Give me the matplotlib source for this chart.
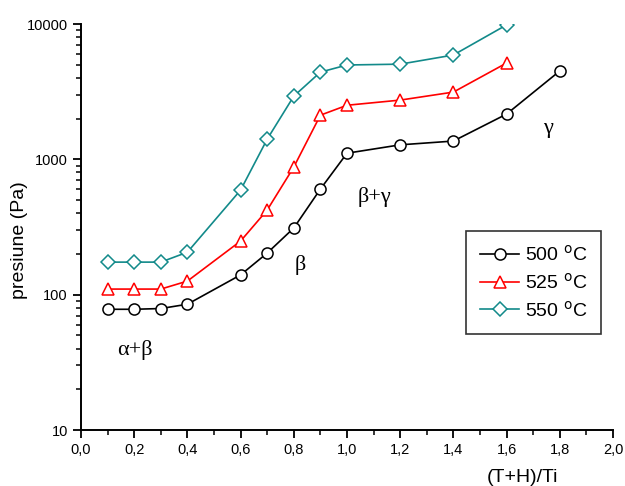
import numpy as np
import matplotlib
matplotlib.use("Agg")
import matplotlib.pyplot as plt
from matplotlib.ticker import MultipleLocator, FuncFormatter, LogLocator, NullFormatter

plt.rcParams["font.family"] = ["Liberation Sans", "DejaVu Sans"]

# ===== data: (T+H)/Ti vs. pressure [Pa] =====
x_500 = [0.1, 0.2, 0.3, 0.4, 0.6, 0.7, 0.8, 0.9, 1.0, 1.2, 1.4, 1.6, 1.8]
p_500 = [78, 78, 79, 85, 140, 203, 311, 603, 1110, 1280, 1365, 2160, 4500]

x_525 = [0.1, 0.2, 0.3, 0.4, 0.6, 0.7, 0.8, 0.9, 1.0, 1.2, 1.4, 1.6]
p_525 = [110, 110, 110, 126, 249, 422, 877, 2120, 2510, 2740, 3140, 5150]

x_550 = [0.1, 0.2, 0.3, 0.4, 0.6, 0.7, 0.8, 0.9, 1.0, 1.2, 1.4, 1.6]
p_550 = [174, 174, 174, 206, 593, 1410, 2930, 4410, 4980, 5050, 5900, 9850]

labels = ["500 $^{\\rm o}$C", "525 $^{\\rm o}$C", "550 $^{\\rm o}$C"]

# phase regions (text, x, y) - text centre
phases = [("α+β", 0.203, 39), ("β", 0.823, 166), ("β+γ", 1.105, 526), ("γ", 1.756, 1700)]

fig = plt.figure(figsize=(6.25, 4.86), dpi=100)
ax = fig.add_axes([0.1296, 0.1152, 0.8512, 0.8354])

ms = 8
teal = "#128a8a"
ax.plot(x_500, p_500, color="black", lw=1.2, marker="o", ms=ms,
        mfc="white", mec="black", mew=1.1, label=labels[0])
ax.plot(x_525, p_525, color="red", lw=1.2, marker="^", ms=ms + 1,
        mfc="white", mec="red", mew=1.1, label=labels[1])
ax.plot(x_550, p_550, color=teal, lw=1.2, marker="D", ms=ms - 1,
        mfc="white", mec=teal, mew=1.1, label=labels[2])

for txt, xx, yy in phases:
    ax.text(xx, yy, txt, fontsize=16, family=["Liberation Serif", "DejaVu Serif"],
            ha="center", va="center")

ax.set_yscale("log")
ax.set_xlim(0.0, 2.0)
ax.set_ylim(10, 10000)

ax.xaxis.set_major_locator(MultipleLocator(0.2))
ax.xaxis.set_minor_locator(MultipleLocator(0.1))
ax.xaxis.set_major_formatter(FuncFormatter(lambda v, p: f"{v:.1f}".replace(".", ",")))
ax.yaxis.set_major_locator(LogLocator(base=10, numticks=10))
ax.yaxis.set_minor_locator(LogLocator(base=10, subs=np.arange(2, 10), numticks=20))
ax.yaxis.set_minor_formatter(NullFormatter())
ax.yaxis.set_major_formatter(FuncFormatter(lambda v, p: f"{int(round(v))}"))

for s in ("top", "right"):
    ax.spines[s].set_visible(False)
for s in ("left", "bottom"):
    ax.spines[s].set_linewidth(1.4)

ax.tick_params(which="major", direction="out", length=6, width=1.3, labelsize=10.5)
ax.tick_params(which="minor", direction="out", length=3.5, width=1.1)

ax.set_ylabel("presiune (Pa)", fontsize=14)
ax.yaxis.set_label_coords(-0.0996, 0.468)
ax.set_xlabel("(T+H)/Ti", fontsize=14)
ax.xaxis.set_label_coords(0.829, -0.095)

leg = ax.legend(loc="upper right", bbox_to_anchor=(0.977, 0.49), fontsize=14,
                fancybox=False, edgecolor="#333333", framealpha=1,
                handlelength=2.0, handletextpad=0.3, borderpad=0.7,
                labelspacing=0.4, borderaxespad=0)
leg.get_frame().set_linewidth(1.2)

fig.savefig("out.png", dpi=100)
